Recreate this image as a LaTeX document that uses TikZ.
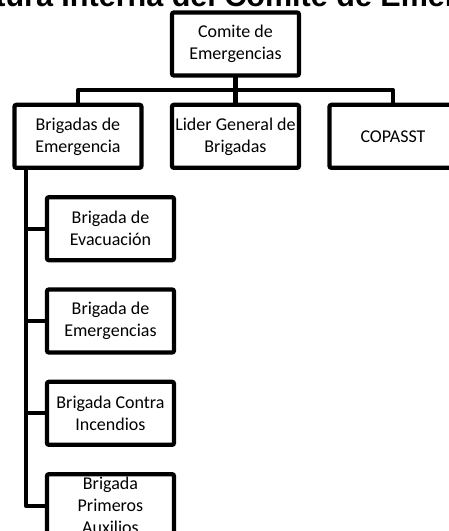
\documentclass[tikz,border=0pt]{standalone}
\usepackage{fontspec}
\setmainfont{Carlito}
\newfontfamily\titlefont{Liberation Sans}
\usetikzlibrary {positioning,
                 calc}

\begin{document}
\begin{tikzpicture}[box/.style={draw, line width=3.2pt, rounded corners=1.5pt,
                                minimum width=95.25pt, minimum height=47.25pt,
                                inner sep=1pt, outer sep=0pt, align=center,
                                font=\fontsize{13.5}{16.5}\selectfont},
                    con/.style={line width=3.2pt, line join=round},
                    node distance=22pt]
    \path[use as bounding box, clip] (0,0) rectangle (336.75pt,-398.25pt);

    % Titel
    \node[anchor=base, inner sep=0pt, font=\titlefont\bfseries\fontsize{22.9}{26}\selectfont]
        (title) at (176.6pt,-5.25pt) {Estructura Interna del Comite de Emergencias};

    % Comite
    \node[box] (comite) at (176.6pt,-33pt) {Comite de\\Emergencias};

    % Ebene 1
    \node[box, below=of comite] (lider) {Lider General de\\Brigadas};
    \node[box, left=22.9pt of lider] (brigadas) {Brigadas de\\Emergencia};
    \node[box, right=22.9pt of lider] (copasst) {COPASST};

    % Ebene 2
    \node[box, below=of brigadas, xshift=24.4pt] (evac) {Brigada de\\Evacuación};
    \node[box, below=of evac] (emerg) {Brigada de\\Emergencias};
    \node[box, below=of emerg] (incend) {Brigada Contra\\Incendios};
    \node[box, below=of incend] (auxil) {Brigada\\Primeros\\Auxilios};

    % Verbindungen
    \coordinate (bar) at ($(comite.south)!0.5!(lider.north)$);
    \draw[con] (comite.south) -- (bar) -| (brigadas.north);
    \draw[con] (bar) -- (lider.north);
    \draw[con] (bar) -| (copasst.north);

    \coordinate (spine) at ([xshift=8.5pt]brigadas.south west);
    \foreach \n in {evac, emerg, incend, auxil}
        \draw[con] (spine) |- (\n.west);

\end{tikzpicture}
\end{document}
